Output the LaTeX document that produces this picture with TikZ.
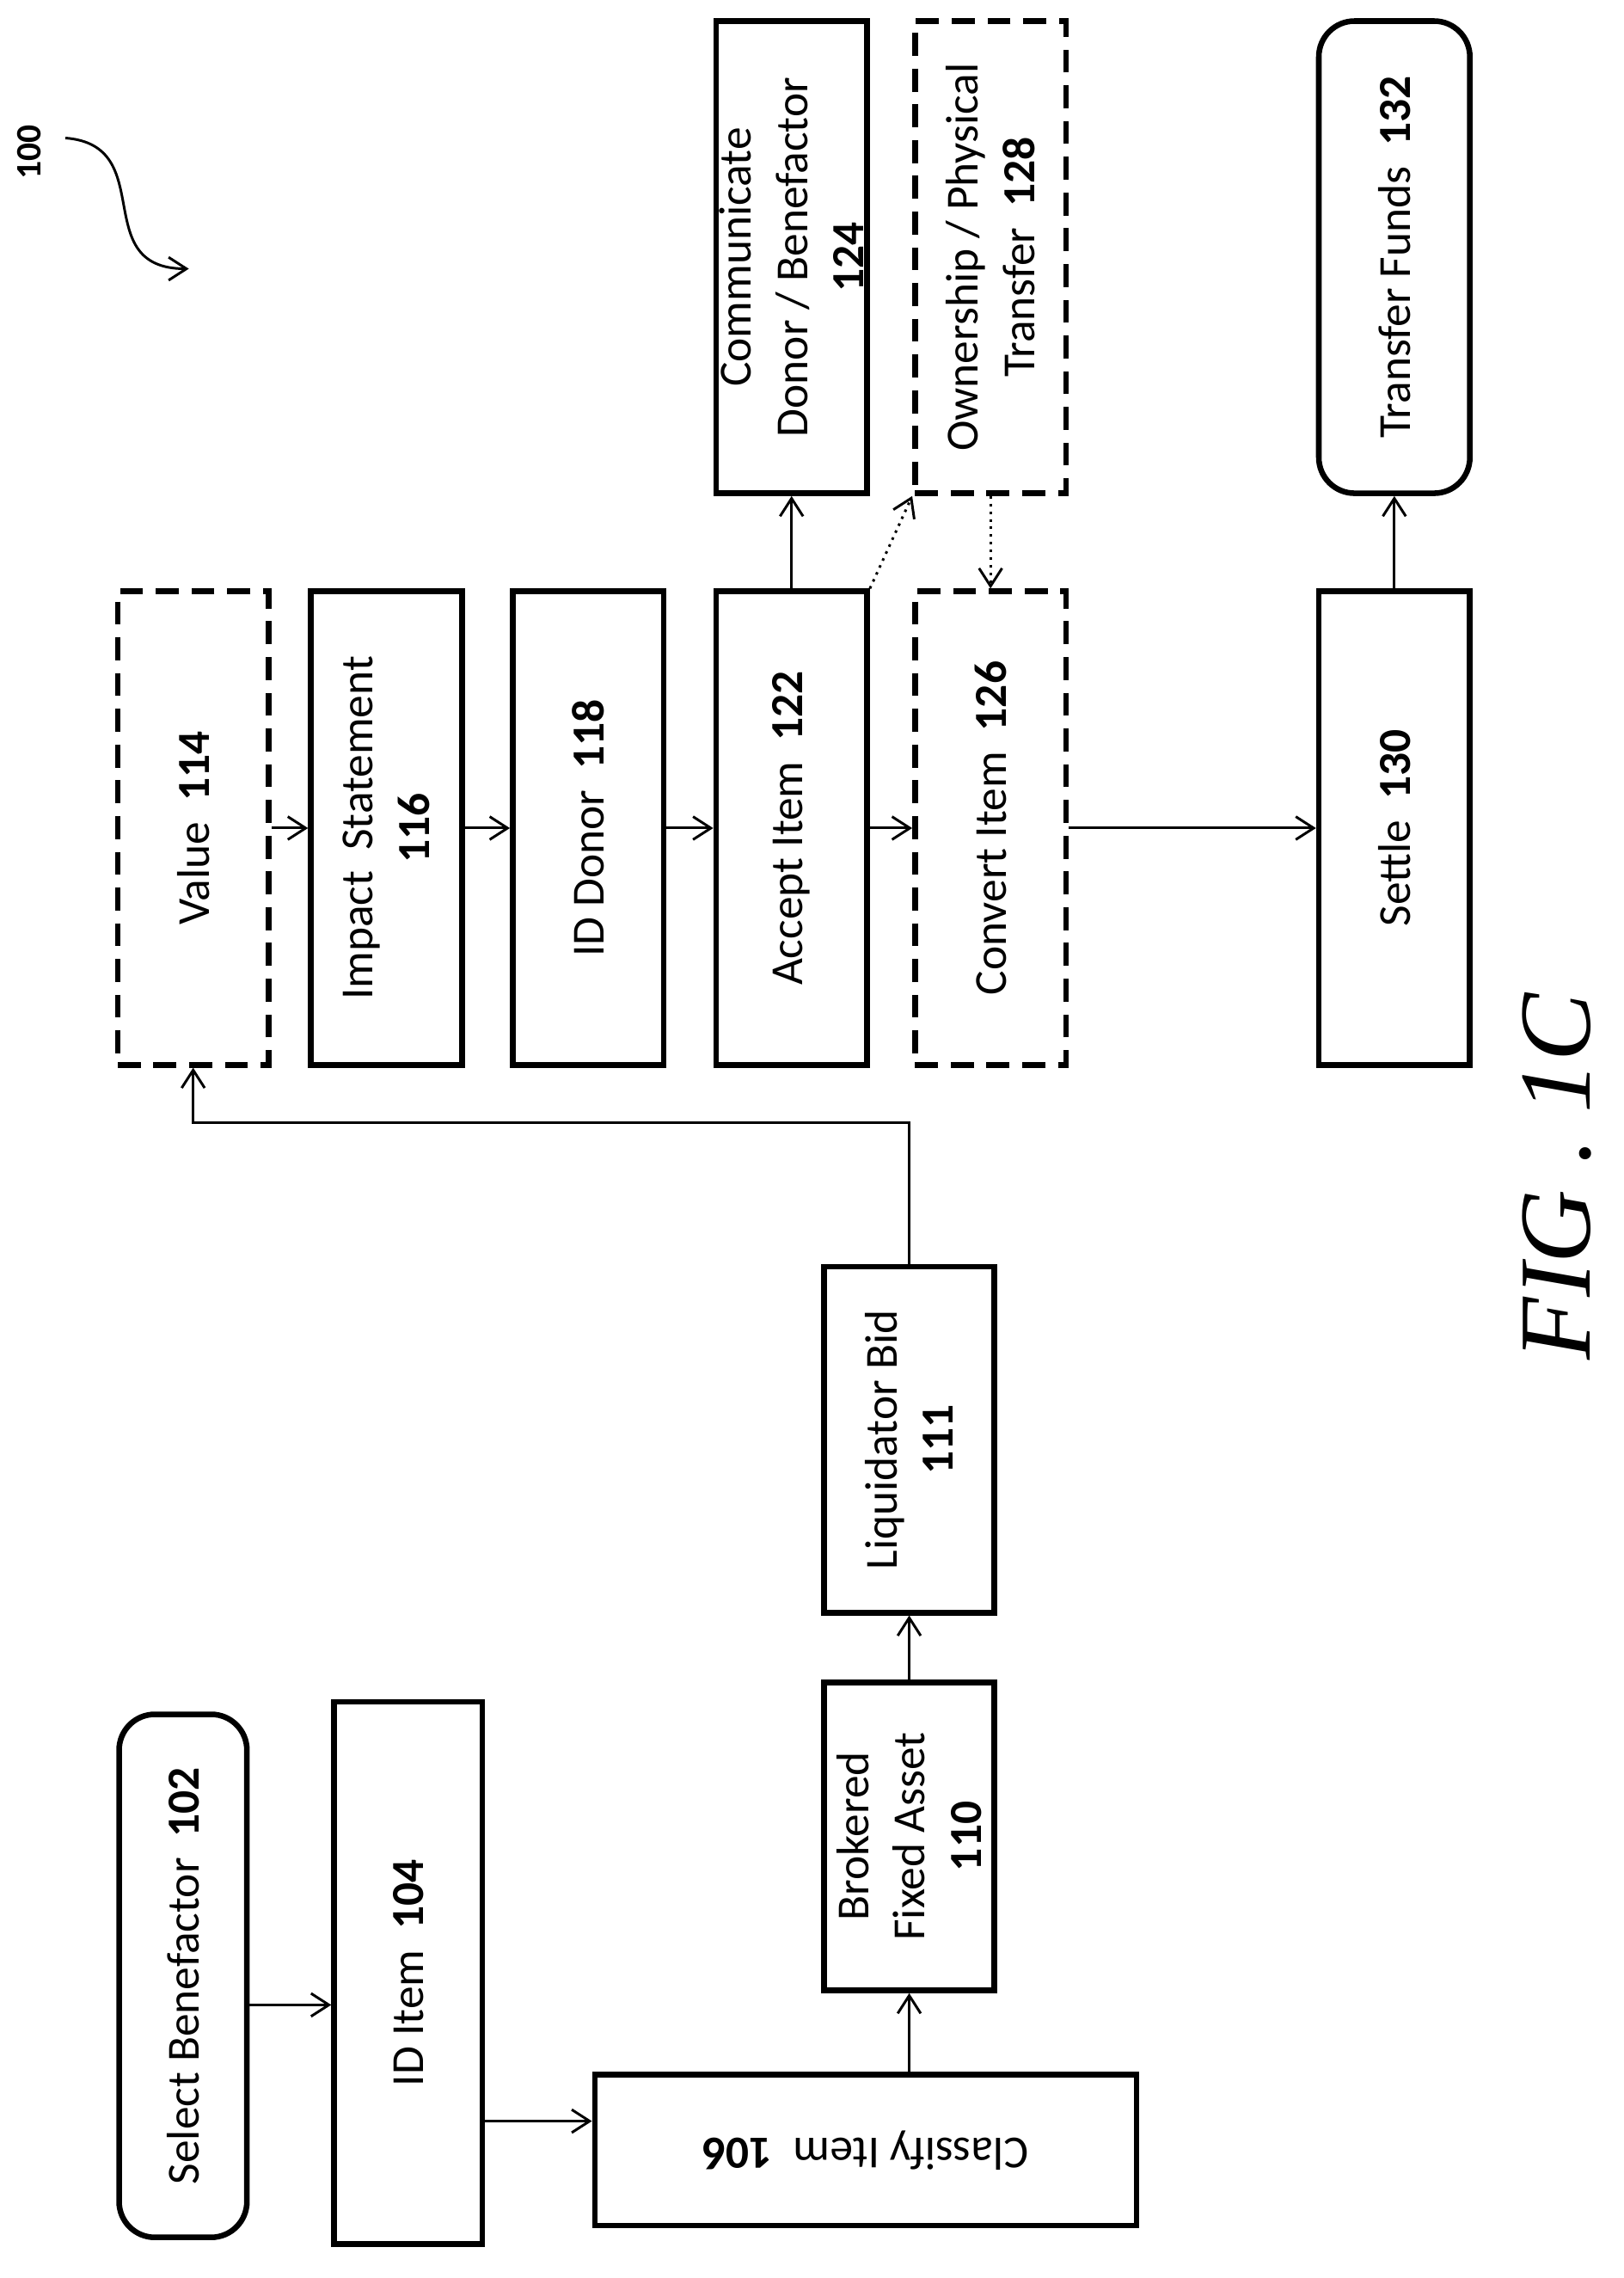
\documentclass[tikz,border=0pt]{standalone}
\usepackage{fontspec}
\setmainfont{Carlito}
\usetikzlibrary{arrows.meta}

\begin{document}
\begin{tikzpicture}[x=0.02cm,y=-0.02cm,
    box/.style={draw,line width=2.2pt,inner sep=0pt,align=center},
    dbox/.style={box,dashed,dash pattern=on 9pt off 5pt},
    rbox/.style={box,rounded corners=14pt},
    lab/.style={rotate=90,align=center,font=\fontsize{18}{22}\selectfont},
    arr/.style={-{Straight Barb[length=7pt,width=9pt]},line width=1pt},
    darr/.style={arr,dotted}]
\useasboundingbox (0,0) rectangle (1118,1568);
% left column
\node[rbox,minimum width=88*0.02cm,minimum height=360*0.02cm] (102) at (126,1360) {};
\node[lab] at (102) {Select Benefactor \ \textbf{102}};
\node[box,minimum width=102*0.02cm,minimum height=373*0.02cm] (104) at (281,1358) {};
\node[lab] at (104) {ID Item \ \textbf{104}};
\node[box,minimum width=373*0.02cm,minimum height=104*0.02cm] (106) at (596,1480) {};
\node[lab,rotate=90] at (106) {Classify Item \ \textbf{106}};
\node[box,minimum width=117*0.02cm,minimum height=212*0.02cm] (110) at (626,1264) {};
\node[lab] at (110) {Brokered\\Fixed Asset\\\textbf{110}};
\node[box,minimum width=117*0.02cm,minimum height=238*0.02cm] (111) at (626,991) {};
\node[lab] at (111) {Liquidator Bid\\\textbf{111}};
% middle row
\foreach \n/\x/\s/\t in {114/133/dbox/{Value \ \textbf{114}},
    116/266/box/{Impact \ Statement\\\textbf{116}},
    118/405/box/{ID Donor \ \textbf{118}},
    122/545/box/{Accept Item \ \textbf{122}},
    126/682/dbox/{Convert Item \ \textbf{126}},
    130/960/box/{Settle \ \textbf{130}}}{
  \node[\s,minimum width=104*0.02cm,minimum height=326*0.02cm] (\n) at (\x,570) {};
  \node[lab] at (\n) {\t};
}
% top row
\node[box,minimum width=104*0.02cm,minimum height=325*0.02cm] (124) at (545,177) {};
\node[lab] at (124) {Communicate\\Donor / Benefactor\\\textbf{124}};
\node[dbox,minimum width=104*0.02cm,minimum height=325*0.02cm] (128) at (682,177) {};
\node[lab] at (128) {Ownership / Physical\\Transfer \ \textbf{128}};
\node[rbox,minimum width=104*0.02cm,minimum height=325*0.02cm] (132) at (960,177) {};
\node[lab] at (132) {Transfer Funds \ \textbf{132}};
% connectors
\draw[arr] (102.east |- 0,1380) -- (104.west |- 0,1380);
\draw[arr] (104.east |- 0,1460) -- (106.west |- 0,1460);
\draw[arr] (110.south |- 106.north) -- (110.south);
\draw[arr] (110.north) -- (111.south);
\draw[arr] (111.north) |- (133,773) -- (114.south);
\draw[arr] (114) -- (116);
\draw[arr] (116) -- (118);
\draw[arr] (118) -- (122);
\draw[arr] (122) -- (126);
\draw[arr] (126) -- (130);
\draw[arr] (122.north) -- (124.south);
\draw[darr] (122.north east) -- (128.south west);
\draw[darr] (128.south) -- (126.north);
\draw[arr] (130.north) -- (132.south);
% reference numeral and figure label
\node[rotate=90,font=\fontsize{14}{16}\selectfont\bfseries] (lbl) at (20,105) {100};
\coordinate (tip) at (130,185);
\draw[arr] (45,95) .. controls (110,100) and (60,185) .. (tip);
\node[rotate=90] (fig) at (1072,810) {\fontspec{Liberation Serif}\fontsize{40}{46}\selectfont\itshape FIG . 1C};
\end{tikzpicture}
\end{document}
